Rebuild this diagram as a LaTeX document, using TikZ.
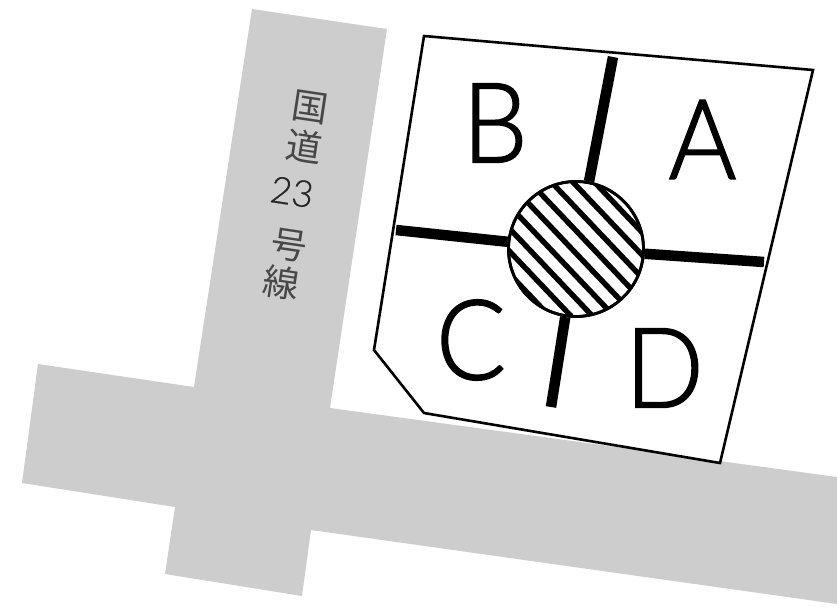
\documentclass[tikz,border=0pt]{standalone}
\usepackage{fontspec}
\setmainfont{Noto Sans CJK JP}
\newfontfamily\lightlat[FakeBold=1.6]{Lato Light}
\newfontfamily\numlat[FakeBold=0.6]{Lato Light}
\definecolor{roadgray}{RGB}{205,205,206}
\tikzset{
  road/.style={fill=roadgray,draw=none},
  lot/.style={draw=black,line width=2.6pt,fill=white,line join=miter},
  aisle/.style={draw=black,line width=10.5pt},
  hubdisc/.style={circle,draw=black,line width=2.8pt,minimum size=135pt,inner sep=0pt,fill=white},
  hatchline/.style={draw=black,line width=5.4pt},
  blockname/.style={font=\lightlat\fontsize{111}{111}\selectfont,inner sep=0pt,xscale=0.93},
  roadname/.style={font=\fontsize{36}{36}\selectfont,inner sep=0pt,rotate=-8.5,text=black!72},
  roadnum/.style={font=\numlat\fontsize{37}{37}\selectfont,inner sep=0pt,rotate=-8.5,text=black!85}
}
\begin{document}
\begin{tikzpicture}[x=1pt,y=-1pt]
\useasboundingbox (0,0) rectangle (837,606);
\fill[white] (0,0) rectangle (837,606);
\path[road] (252,9) -- (387,29) -- (330,408) -- (837,477) -- (837,604) -- (311,530) -- (302,596) -- (165,574) -- (175,507) -- (22,483) -- (38,364) -- (194,387) -- cycle;
\path[lot] (424,36) -- (813,70) -- (720,463) -- (424,413) -- (374,350) -- cycle;
\node[hubdisc] (hub) at (576,249) {};
\coordinate (north) at (613,57);
\coordinate (west) at (396,230);
\coordinate (east) at (764,262);
\coordinate (south) at (551,407);
\draw[aisle] (hub) -- (north);
\draw[aisle] (hub) -- (west);
\draw[aisle] (hub) -- (east);
\draw[aisle] (hub) -- (south);
\begin{scope}
\clip (576,249) circle (67.5);
\foreach \k in {-5,...,5} {
  \draw[hatchline,shift={(576,249)},rotate=-46.5] (-80,{\k*15.6+3}) -- (80,{\k*15.6+3});
}
\end{scope}
\node[hubdisc,fill=none] (hubrim) at (576,249) {};
\node[blockname] (lb) at (495,123) {B};
\node[blockname] (la) at (702.5,139.5) {A};
\node[blockname] (lc) at (471,340) {C};
\node[blockname] (ld) at (664.5,368) {D};
\node[roadname] (t1) at (310,107) {国};
\node[roadname] (t2) at (304,146) {道};
\node[roadnum] (t3) at (292,192) {23};
\node[roadname] (t4) at (289,245) {号};
\node[roadname] (t5) at (281,283) {線};
\end{tikzpicture}
\end{document}
